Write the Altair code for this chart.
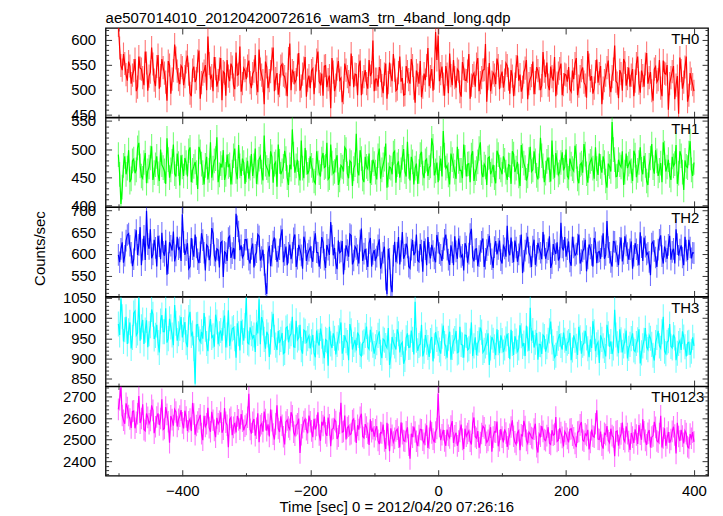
import altair as alt
import pandas as pd

# ---------------- data ----------------
# Each series is given as two lists of 4-s spaced readings, offset by 2 s:
# *_A at t = -500, -496, ..., 400 and *_B at t = -498, -494, ..., 398.
TIME_START = -500   # first bin time [s]
TIME_STEP = 2       # bin spacing after merging A and B [s]

TH0_A = [
    628, 548, 571, 530, 556, 512, 538, 497, 566, 541, 509, 553, 527, 584, 519, 546, 502, 561, 533, 478, 549, 521, 590, 537, 511,
    544, 526, 568, 493, 539, 515, 557, 482, 531, 549, 606, 523, 497, 542, 518, 563, 536, 488, 527, 552, 509, 574, 531, 496, 543,
    521, 558, 503, 537, 512, 580, 529, 471, 545, 518, 561, 497, 533, 508, 551, 526, 487, 592, 538, 514, 549, 498, 531, 565, 519,
    503, 542, 527, 576, 511, 488, 548, 520, 463, 535, 509, 557, 523, 494, 539, 516, 572, 505, 530, 547, 489, 526, 512, 559, 534,
    497, 521, 545, 508, 531, 482, 554, 517, 539, 501, 566, 523, 490, 536, 512, 548, 474, 529, 557, 505, 519, 583, 526, 498, 615,
    608, 532, 511, 547, 493, 528, 559, 504, 537, 486, 542, 518, 571, 509, 533, 551, 497, 524, 540, 476, 553, 515, 529, 562, 501,
    536, 519, 548, 492, 527, 511, 568, 530, 505, 543, 481, 522, 556, 514, 538, 499, 575, 525, 509, 546, 518, 487, 533, 552, 510,
    529, 545, 496, 521, 563, 507, 538, 515, 484, 549, 527, 503, 560, 532, 471, 518, 544, 509, 526, 588, 513, 539, 498, 554, 522,
    506, 541, 517, 566, 494, 528, 551, 512, 535, 478, 546, 520, 503, 558, 531, 460, 524, 547, 509, 452, 538, 515, 566, 489, 521,
    497,
]
TH0_B = [
    583, 539, 552, 518, 547, 529, 561, 505, 543, 524, 576, 498, 535, 551, 507, 569, 528, 544, 515, 557, 492, 538, 563, 520, 548,
    509, 555, 531, 487, 546, 522, 578, 514, 537, 499, 552, 528, 565, 506, 541, 479, 533, 559, 517, 545, 501, 529, 586, 512, 538,
    547, 514, 532, 569, 495, 541, 518, 556, 503, 536, 584, 522, 490, 547, 529, 511, 562, 499, 534, 520, 573, 507, 543, 486, 528,
    538, 491, 559, 516, 532, 547, 505, 528, 563, 497, 541, 519, 475, 552, 526, 507, 544, 531, 489, 558, 514, 539, 502, 527, 598,
    521, 506, 538, 493, 552, 514, 529, 571, 498, 534, 516, 489, 547, 520, 561, 503, 538, 512, 485, 532, 548, 507, 541, 523, 559,
    517, 546, 488, 531, 572, 509, 524, 541, 496, 555, 519, 537, 482, 528, 506, 563, 514, 539, 591, 522, 497, 534, 511, 548, 527,
    504, 553, 521, 539, 487, 546, 518, 496, 535, 559, 512, 528, 491, 545, 522, 508, 537, 554, 499, 526, 565, 513, 542, 489, 531,
    516, 501, 538, 552, 489, 526, 544, 509, 577, 518, 492, 536, 514, 547, 503, 529, 558, 495, 541, 517, 483, 532, 561, 508, 544,
    529, 487, 552, 513, 538, 506, 573, 524, 498, 541, 515, 559, 487, 533, 549, 512, 536, 481, 527, 564, 502, 545, 476, 533, 510,
]

TH1_A = [
    490, 402, 471, 455, 498, 447, 482, 463, 511, 452, 476, 439, 468, 505, 458, 487, 443, 472, 461, 519, 449, 478, 456, 492, 435,
    468, 484, 451, 503, 462, 477, 429, 495, 458, 471, 446, 512, 466, 483, 441, 474, 498, 455, 469, 437, 488, 460, 507, 452, 476,
    463, 447, 491, 470, 438, 482, 459, 524, 467, 451, 486, 473, 433, 478, 461, 497, 449, 472, 535, 458, 481, 444, 466, 502, 455,
    487, 462, 439, 475, 451, 493, 469, 446, 508, 457, 480, 436, 471, 460, 499, 448, 476, 465, 527, 453, 483, 441, 469, 492, 458,
    474, 446, 501, 463, 482, 431, 468, 455, 496, 472, 449, 485, 460, 513, 444, 477, 466, 438, 490, 457, 479, 452, 470, 505, 461,
    441, 483, 532, 466, 454, 492, 470, 447, 478, 462, 508, 451, 474, 489, 443, 465, 501, 458, 473, 436, 486, 461, 449, 497, 468,
    455, 480, 445, 471, 496, 459, 477, 434, 488, 467, 452, 504, 463, 479, 446, 520, 470, 457, 485, 442, 468, 493, 454, 476, 462,
    499, 448, 473, 461, 487, 439, 475, 509, 456, 470, 483, 447, 465, 492, 458, 476, 431, 469, 548, 481, 452, 472, 496, 459, 466,
    478, 443, 489, 462, 503, 455, 471, 436, 484, 467, 498, 452, 475, 512, 460, 481, 445, 470, 507, 457, 488, 427, 469, 493, 463,
    476,
]
TH1_B = [
    455, 432, 487, 466, 441, 479, 457, 502, 470, 448, 493, 461, 484, 445, 472, 456, 499, 467, 438, 481, 463, 508, 451, 474, 489,
    452, 476, 497, 441, 469, 458, 504, 473, 437, 486, 462, 449, 479, 521, 454, 467, 445, 490, 472, 459, 501, 446, 470, 483, 438,
    479, 466, 452, 501, 459, 487, 444, 473, 462, 496, 440, 477, 508, 455, 469, 483, 436, 464, 491, 470, 457, 515, 448, 476, 462,
    471, 443, 496, 458, 482, 467, 511, 449, 475, 460, 489, 445, 468, 503, 456, 479, 434, 472, 461, 498, 447, 486, 465, 439, 481,
    459, 488, 447, 472, 510, 454, 466, 493, 440, 478, 463, 500, 451, 469, 486, 437, 474, 460, 495, 448, 482, 467, 519, 453, 476,
    466, 451, 489, 470, 437, 481, 459, 504, 462, 448, 485, 473, 441, 496, 458, 477, 512, 450, 468, 484, 455, 472, 439, 490, 463,
    487, 459, 472, 438, 491, 466, 452, 507, 475, 444, 481, 460, 496, 453, 470, 488, 441, 478, 463, 515, 449, 476, 459, 494, 468,
    452, 483, 465, 506, 447, 472, 458, 491, 440, 478, 466, 503, 454, 469, 487, 443, 474, 460, 499, 451, 481, 468, 436, 492, 473,
    461, 497, 450, 476, 464, 488, 443, 471, 509, 456, 479, 462, 441, 493, 468, 453, 486, 474, 438, 496, 459, 480, 467, 514, 452,
]

TH2_A = [
    598, 612, 580, 631, 647, 603, 588, 655, 621, 574, 642, 700, 612, 590, 633, 571, 618, 649, 596, 552, 627, 608, 583, 640, 615,
    692, 598, 625, 571, 611, 645, 588, 604, 632, 562, 617, 598, 648, 583, 609, 626, 547, 602, 637, 591, 614, 693, 652, 620, 598,
    633, 587, 612, 569, 604, 641, 593, 575, 508, 619, 596, 638, 582, 611, 657, 598, 574, 622, 603, 645, 589, 610, 566, 627, 600,
    615, 582, 648, 603, 591, 627, 568, 610, 674, 597, 579, 631, 606, 553, 620, 594, 643, 585, 612, 578, 659, 601, 588, 625, 571,
    609, 594, 634, 580, 617, 507, 589, 512, 628, 603, 576, 651, 598, 615, 567, 632, 604, 585, 623, 559, 611, 639, 590, 607, 581,
    626, 598, 613, 645, 587, 620, 574, 606, 636, 593, 562, 617, 601, 658, 583, 612, 595, 628, 570, 609, 642, 588, 616, 599, 631,
    578, 613, 665, 597, 604, 631, 582, 619, 556, 608, 640, 594, 617, 575, 626, 603, 651, 589, 611, 568, 623, 600, 585, 672, 608,
    594, 629, 573, 615, 601, 645, 586, 612, 560, 622, 598, 637, 579, 606, 618, 589, 676, 603, 571, 628, 595, 614, 583, 641, 602,
    611, 566, 625, 598, 650, 584, 617, 603, 551, 629, 592, 610, 643, 578, 606, 621, 587, 612, 657, 596, 620, 574, 608, 633, 590,
    602,
]
TH2_B = [
    581, 627, 596, 644, 619, 572, 633, 598, 662, 610, 586, 623, 657, 599, 614, 642, 588, 605, 631, 579, 619, 652, 597, 611, 584,
    628, 609, 566, 637, 594, 615, 579, 648, 603, 621, 586, 660, 597, 612, 569, 629, 605, 584, 641, 602, 588, 664, 609, 592, 633,
    611, 578, 624, 598, 645, 585, 610, 530, 603, 572, 629, 611, 594, 641, 581, 617, 603, 588, 636, 570, 621, 597, 640, 584, 608,
    593, 628, 604, 571, 639, 587, 621, 598, 642, 614, 565, 603, 630, 588, 609, 646, 576, 617, 597, 631, 584, 612, 570, 637, 600,
    587, 620, 566, 603, 541, 612, 528, 596, 581, 639, 607, 589, 624, 571, 610, 597, 645, 582, 608, 630, 574, 603, 621, 590, 644,
    602, 584, 633, 610, 575, 604, 641, 589, 617, 598, 625, 580, 646, 593, 611, 572, 607, 636, 589, 621, 600, 568, 630, 612, 586,
    619, 594, 607, 638, 581, 615, 599, 645, 584, 624, 603, 570, 633, 596, 612, 588, 620, 603, 641, 579, 609, 627, 592, 615, 639,
    611, 583, 640, 597, 622, 578, 606, 633, 590, 613, 571, 627, 604, 589, 648, 598, 616, 582, 629, 606, 574, 638, 601, 620, 587,
    629, 596, 611, 574, 616, 638, 599, 582, 624, 607, 570, 633, 595, 617, 589, 642, 605, 578, 623, 610, 592, 640, 586, 615, 603,
]

TH3_A = [
    985, 1048, 942, 1003, 968, 925, 1012, 957, 1050, 978, 936, 994, 961, 1021, 948, 983, 915, 1007, 966, 939, 998, 958, 1032, 944, 975,
    952, 990, 928, 1015, 963, 838, 984, 941, 949, 972, 918, 997, 956, 1008, 935, 969, 988, 927, 1019, 953, 976, 902, 961, 993, 944,
    1049, 936, 961, 958, 989, 1046, 1002, 947, 966, 904, 984, 952, 921, 939, 963, 915, 978, 955, 1003, 928, 946, 983, 912, 967, 949,
    925, 958, 903, 941, 974, 918, 947, 882, 936, 962, 910, 951, 989, 927, 944, 896, 968, 935, 920, 957, 906, 941, 979, 923, 948,
    912, 939, 967, 901, 945, 926, 884, 953, 931, 972, 915, 940, 898, 962, 928, 947, 1040, 919, 936, 905, 958, 927, 944, 893, 965,
    937, 912, 981, 929, 950, 897, 943, 968, 916, 935, 902, 957, 924, 989, 931, 908, 946, 965, 920, 940, 884, 953, 929, 972, 913,
    944, 926, 961, 898, 937, 955, 915, 982, 930, 906, 948, 1025, 969, 940, 897, 934, 958, 917, 945, 991, 925, 908, 950, 932, 964,
    919, 942, 896, 957, 930, 978, 912, 938, 951, 903, 926, 966, 934, 889, 947, 920, 983, 929, 911, 1020, 936, 972, 915, 943, 900,
    935, 962, 917, 946, 888, 931, 975, 922, 950, 908, 939, 968, 925, 1003, 912, 944, 930, 959, 896, 937, 921, 953, 905, 940, 918,
    931,
]
TH3_B = [
    958, 1003, 971, 936, 989, 952, 1017, 963, 944, 995, 970, 928, 981, 1009, 957, 939, 992, 966, 1024, 949, 978, 933, 987, 961, 1002,
    971, 939, 1001, 957, 924, 983, 948, 966, 1012, 937, 975, 952, 929, 990, 961, 944, 1006, 958, 931, 973, 949, 987, 920, 965, 981,
    939, 977, 950, 916, 962, 935, 988, 924, 958, 941, 1010, 933, 968, 947, 912, 975, 940, 961, 929, 993, 951, 922, 970, 938, 956,
    941, 913, 969, 932, 955, 901, 944, 978, 926, 950, 935, 968, 912, 957, 939, 985, 922, 946, 964, 910, 938, 957, 928, 971, 933,
    929, 957, 915, 948, 932, 975, 906, 940, 922, 961, 935, 887, 951, 927, 969, 910, 945, 932, 983, 918, 940, 904, 953, 931, 947,
    921, 955, 937, 902, 966, 927, 949, 914, 978, 933, 958, 921, 943, 906, 952, 937, 976, 915, 931, 962, 926, 945, 908, 939, 957,
    916, 948, 932, 971, 909, 943, 926, 956, 938, 981, 919, 944, 927, 963, 935, 911, 954, 929, 968, 941, 903, 937, 960, 922, 945,
    938, 963, 921, 945, 909, 951, 933, 968, 924, 947, 992, 918, 940, 957, 931, 905, 961, 942, 926, 958, 913, 946, 931, 969, 925,
    949, 921, 937, 972, 914, 945, 928, 957, 935, 895, 952, 931, 966, 918, 940, 985, 926, 951, 913, 944, 967, 929, 938, 909, 952,
]

TH0123_A = [
    2640, 2745, 2590, 2668, 2612, 2555, 2633, 2581, 2702, 2598, 2547, 2621, 2574, 2659, 2530, 2605, 2568, 2687, 2552, 2617, 2486, 2593, 2640, 2561, 2609,
    2578, 2634, 2541, 2596, 2670, 2523, 2582, 2615, 2498, 2561, 2648, 2537, 2590, 2512, 2573, 2627, 2549, 2581, 2466, 2603, 2557, 2534, 2592, 2619, 2543,
    2571, 2712, 2528, 2596, 2553, 2489, 2574, 2630, 2542, 2515, 2588, 2501, 2659, 2536, 2567, 2478, 2592, 2548, 2610, 2521, 2574, 2439, 2556, 2595, 2530,
    2583, 2512, 2548, 2627, 2495, 2566, 2531, 2602, 2470, 2552, 2584, 2517, 2671, 2539, 2501, 2563, 2528, 2596, 2485, 2547, 2620, 2509, 2558, 2476, 2537,
    2514, 2562, 2480, 2531, 2495, 2578, 2447, 2520, 2506, 2549, 2464, 2528, 2493, 2557, 2412, 2512, 2536, 2471, 2548, 2498, 2525, 2462, 2589, 2503, 2535,
    2714, 2498, 2546, 2472, 2520, 2563, 2485, 2532, 2494, 2570, 2457, 2516, 2541, 2478, 2603, 2507, 2463, 2529, 2555, 2488, 2521, 2445, 2537, 2584, 2496,
    2512, 2548, 2467, 2525, 2590, 2490, 2533, 2452, 2518, 2561, 2483, 2526, 2505, 2574, 2441, 2516, 2539, 2496, 2558, 2478, 2521, 2605, 2498, 2533, 2469,
    2527, 2488, 2551, 2509, 2466, 2538, 2582, 2493, 2520, 2455, 2547, 2512, 2636, 2501, 2475, 2530, 2563, 2486, 2519, 2424, 2541, 2508, 2579, 2491, 2528,
    2453, 2512, 2548, 2481, 2526, 2594, 2497, 2530, 2464, 2518, 2557, 2489, 2611, 2508, 2472, 2536, 2501, 2560, 2437, 2515, 2546, 2483, 2528, 2462, 2507,
    2490,
]
TH0123_B = [
    2685, 2612, 2574, 2648, 2596, 2631, 2553, 2620, 2577, 2664, 2541, 2603, 2589, 2636, 2560, 2622, 2598, 2547, 2651, 2583, 2610, 2565, 2628, 2594, 2637,
    2552, 2605, 2583, 2540, 2619, 2566, 2597, 2528, 2611, 2574, 2556, 2629, 2543, 2601, 2585, 2532, 2646, 2567, 2594, 2521, 2578, 2610, 2549, 2586, 2563,
    2604, 2548, 2581, 2519, 2622, 2565, 2537, 2593, 2571, 2640, 2526, 2573, 2552, 2608, 2514, 2582, 2559, 2627, 2535, 2566, 2598, 2523, 2584, 2547, 2612,
    2541, 2597, 2566, 2522, 2583, 2607, 2518, 2569, 2548, 2593, 2504, 2577, 2535, 2612, 2556, 2523, 2589, 2541, 2567, 2603, 2515, 2572, 2530, 2594, 2551,
    2546, 2497, 2533, 2570, 2458, 2524, 2553, 2489, 2541, 2512, 2580, 2496, 2537, 2475, 2528, 2561, 2493, 2519, 2546, 2483, 2567, 2507, 2532, 2488, 2552,
    2561, 2523, 2495, 2547, 2509, 2586, 2518, 2472, 2539, 2502, 2551, 2529, 2493, 2576, 2514, 2540, 2487, 2563, 2521, 2497, 2558, 2512, 2535, 2470, 2549,
    2488, 2531, 2504, 2559, 2516, 2479, 2542, 2523, 2587, 2497, 2535, 2510, 2549, 2468, 2527, 2563, 2501, 2519, 2484, 2544, 2526, 2492, 2553, 2511, 2538,
    2506, 2548, 2521, 2483, 2535, 2569, 2499, 2527, 2546, 2488, 2517, 2574, 2503, 2538, 2459, 2524, 2496, 2551, 2512, 2538, 2473, 2527, 2503, 2562, 2492,
    2531, 2485, 2522, 2568, 2500, 2537, 2476, 2545, 2512, 2583, 2495, 2529, 2464, 2553, 2508, 2486, 2539, 2522, 2578, 2494, 2517, 2541, 2468, 2526, 2535,
]

SERIES_A = [TH0_A, TH1_A, TH2_A, TH3_A, TH0123_A]
SERIES_B = [TH0_B, TH1_B, TH2_B, TH3_B, TH0123_B]
PANEL_NAMES = ["TH0", "TH1", "TH2", "TH3", "TH0123"]
ERRORS = [23, 22, 25, 31, 50]           # 1-sigma error per bin (counts/sec)
COLORS = ["#ff0000", "#00ff00", "#0000ff", "#00ffff", "#ff00ff"]
Y_DOMAINS = [[445, 623], [397, 556], [502, 708], [832, 1052], [2334, 2746]]
Y_MAJOR = [[450, 500, 550, 600], [400, 450, 500, 550], [550, 600, 650, 700],
           [850, 900, 950, 1000, 1050], [2400, 2500, 2600, 2700]]
Y_MAJOR_STEP = [50, 50, 50, 50, 100]
Y_MINOR_STEP = [10, 10, 10, 10, 20]
X_DOMAIN = [-520, 422]
X_MAJOR = [-400, -200, 0, 200, 400]
X_MINOR = [-500, -300, -100, 100, 300]

TITLE = "ae507014010_20120420072616_wam3_trn_4band_long.qdp"
X_TITLE = "Time [sec] 0 = 2012/04/20 07:26:16"
Y_TITLE = "Counts/sec"

# ---------------- layout / style ----------------
W = 605
H = 89.6
FONT = "Liberation Sans"
FS = 15
TICK_COLOR = "#333333"
LABEL_X = [568, 568, 568, 568, 548]


def merge(a, b):
    out = []
    for i, v in enumerate(a):
        out.append(v)
        if i < len(b):
            out.append(b[i])
    return out


def minor_values(dom, step):
    v = int(dom[0] // step) * step
    vals = []
    while v <= dom[1]:
        if v >= dom[0]:
            vals.append(v)
        v += step
    return vals


def panel(k):
    vals = merge(SERIES_A[k], SERIES_B[k])
    df = pd.DataFrame({
        "t": [TIME_START + TIME_STEP * i for i in range(len(vals))],
        "v": vals,
    })
    df["lo"] = df["v"] - ERRORS[k]
    df["hi"] = df["v"] + ERRORS[k]

    xs = alt.Scale(domain=X_DOMAIN, nice=False, zero=False)
    ys = alt.Scale(domain=Y_DOMAINS[k], nice=False, zero=False)
    ymaj = Y_MAJOR_STEP[k]
    yticks = minor_values(Y_DOMAINS[k], Y_MINOR_STEP[k])
    xticks = sorted(X_MAJOR + X_MINOR)
    ytick_size = {"condition": {"test": f"datum.value % {ymaj} === 0", "value": 6}, "value": 3}
    xtick_size = {"condition": {"test": "datum.value % 200 === 0", "value": 6}, "value": 3}

    base = alt.Chart(df)

    err = base.mark_rule(color=COLORS[k], opacity=0.55, strokeWidth=1.1, clip=True).encode(
        x=alt.X("t:Q", scale=xs, title=None,
                axis=alt.Axis(orient="bottom", offset=-H, values=xticks, labels=False, grid=False,
                              domain=False, tickSize=xtick_size, tickColor=TICK_COLOR)),
        y=alt.Y("lo:Q", scale=ys, title=None,
                axis=alt.Axis(orient="right", offset=-W, values=yticks, labels=False, grid=False,
                              domain=False, tickSize=ytick_size, tickColor=TICK_COLOR)),
        y2="hi:Q",
    )

    if k == len(SERIES_A) - 1:
        xaxis = alt.Axis(orient="bottom", values=X_MAJOR, ticks=False, tickSize=0, domain=False,
                         grid=False, labelPadding=8, labelFlush=False, titlePadding=1, titleX=292)
        xtitle = X_TITLE
    else:
        xaxis = None
        xtitle = None
    if k == 2:
        yaxis = alt.Axis(orient="left", values=Y_MAJOR[k], ticks=False, tickSize=0, domain=False,
                         grid=False, format="d", labelPadding=10, labelOverlap=False,
                         titleX=-58, titleY=41)
        ytitle = Y_TITLE
    else:
        yaxis = alt.Axis(orient="left", values=Y_MAJOR[k], ticks=False, tickSize=0, domain=False,
                         grid=False, format="d", labelPadding=10, labelOverlap=False)
        ytitle = None

    line = base.mark_line(color=COLORS[k], strokeWidth=1.2, clip=True).encode(
        x=alt.X("t:Q", scale=xs, title=xtitle, axis=xaxis),
        y=alt.Y("v:Q", scale=ys, title=ytitle, axis=yaxis),
    )

    ticks2 = base.mark_point(opacity=0, size=1, clip=True).encode(
        x=alt.X("t:Q", scale=xs, title=None,
                axis=alt.Axis(orient="top", offset=-H, values=xticks, labels=False, grid=False,
                              domain=False, tickSize=xtick_size, tickColor=TICK_COLOR)),
        y=alt.Y("v:Q", scale=ys, title=None,
                axis=alt.Axis(orient="left", offset=-W, values=yticks, labels=False, grid=False,
                              domain=False, tickSize=ytick_size, tickColor=TICK_COLOR)),
    )

    label = alt.Chart(pd.DataFrame({"name": [PANEL_NAMES[k]]})).mark_text(
        align="left", baseline="alphabetic", font=FONT, fontSize=FS, color="black"
    ).encode(text="name:N", x=alt.value(LABEL_X[k]), y=alt.value(16))

    layer = alt.layer(err, line, ticks2, label).resolve_axis(x="independent", y="independent")
    props = dict(width=W, height=H, view=alt.ViewBackground(stroke="black", strokeWidth=1.3))
    if k == 0:
        props["title"] = alt.TitleParams(TITLE, anchor="start", frame="group", font=FONT,
                                         fontSize=FS, fontWeight="normal", color="black", offset=2)
    return layer.properties(**props)


chart = alt.vconcat(*[panel(k) for k in range(len(SERIES_A))], spacing=0, bounds="flush").properties(
    padding={"left": 24, "top": 0, "right": 5, "bottom": 2}
).configure(
    background="white"
).configure_view(
    stroke="black", strokeWidth=1.3
).configure_axis(
    grid=False, labelFont=FONT, labelFontSize=FS, labelColor="black",
    titleFont=FONT, titleFontSize=FS, titleFontWeight="normal", titleColor="black",
)

chart.save("out.html", embed_options={"renderer": "svg", "actions": False})
